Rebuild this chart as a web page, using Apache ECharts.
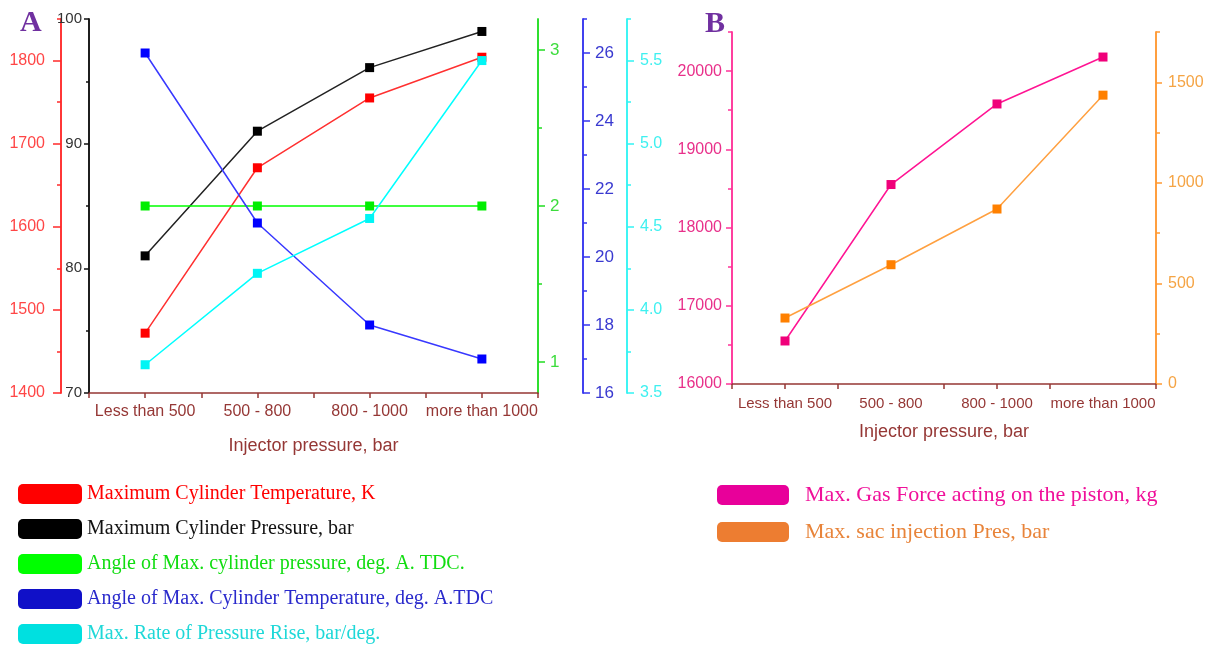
<!DOCTYPE html>
<html>
<head>
<meta charset="utf-8">
<script src="https://cdn.jsdelivr.net/npm/echarts@6/dist/echarts.min.js"></script>
<style>
html,body{margin:0;padding:0;background:#fff;}
#chart{width:1212px;height:648px;}
</style>
</head>
<body>
<div id="chart"></div>
<script>
// ---- data ----
const categories = ['Less than 500', '500 - 800', '800 - 1000', 'more than 1000'];
const maxCylTemp = [1472, 1671, 1755, 1804];      // K (red axis)
const maxCylPres = [81.0, 91.0, 96.1, 99.0];      // bar (black axis)
const angleMaxPres = [2, 2, 2, 2];                // deg (green axis)
const angleMaxTemp = [26.0, 21.0, 18.0, 17.0];    // deg (blue axis)
const maxRatePres = [3.67, 4.22, 4.55, 5.5];      // bar/deg (cyan axis)
const maxGasForce = [16550, 18550, 19580, 20180]; // kg (pink axis)
const maxSacPres = [328, 593, 870, 1436];         // bar (orange axis)

// ---- tick labels ----
const redTicks = [1400, 1500, 1600, 1700, 1800];
const redMinor = [1450, 1550, 1650, 1750, 1850];
const blackTicks = [70, 80, 90, 100];
const blackMinor = [75, 85, 95];
const greenTicks = [1, 2, 3];
const greenMinor = [1.5, 2.5];
const blueTicks = [16, 18, 20, 22, 24, 26];
const blueMinor = [17, 19, 21, 23, 25, 27];
const cyanTicks = [3.5, 4.0, 4.5, 5.0, 5.5];
const cyanMinor = [3.75, 4.25, 4.75, 5.25, 5.75];
const pinkTicks = [16000, 17000, 18000, 19000, 20000];
const pinkMinor = [16500, 17500, 18500, 19500, 20500];
const orangeTicks = [0, 500, 1000, 1500];
const orangeMinor = [250, 750, 1250, 1750];

const names = {
  temp: 'Maximum Cylinder Temperature, K',
  pres: 'Maximum Cylinder Pressure, bar',
  angP: 'Angle of Max. cylinder pressure, deg. A. TDC.',
  angT: 'Angle of Max. Cylinder Temperature, deg. A.TDC',
  rate: 'Max. Rate of Pressure Rise, bar/deg.',
  gas: 'Max. Gas Force acting on the piston, kg',
  sac: 'Max. sac injection Pres, bar'
};

const SANS = 'Liberation Sans, Arial, sans-serif';
const SERIF = 'Liberation Serif, Times New Roman, serif';
const AXRED = '#953735';

function yPair(o) {
  const major = {
    type: 'value', gridIndex: o.grid, position: o.pos, offset: o.offset,
    min: o.min, max: o.max,
    axisLine: { show: true, lineStyle: { color: o.line, width: 1.5 } },
    axisTick: { show: true, customValues: o.ticks, length: o.tickLen, lineStyle: { color: o.line, width: 1.5 } },
    axisLabel: { show: true, customValues: o.ticks, color: o.label, fontSize: o.fs, fontFamily: SANS, margin: o.margin,
      formatter: o.fmt || (v => String(v)) },
    splitLine: { show: false }
  };
  const minor = {
    type: 'value', gridIndex: o.grid, position: o.pos, offset: o.offset,
    min: o.min, max: o.max,
    axisLine: { show: true, lineStyle: { color: o.line, width: 1.5 } },
    axisTick: { show: true, customValues: o.minor, length: o.minorLen, lineStyle: { color: o.line, width: 1.5 } },
    axisLabel: { show: false },
    splitLine: { show: false }
  };
  return [major, minor];
}

const yDefs = [
  { grid: 0, pos: 'left', offset: 0, min: 70, max: 100, ticks: blackTicks, minor: blackMinor, line: '#111', label: '#333', fs: 15, margin: 7, tickLen: 5, minorLen: 3 },
  { grid: 0, pos: 'left', offset: 28, min: 1400, max: 1850, ticks: redTicks, minor: redMinor, line: '#ff2a2a', label: '#ff4646', fs: 16, margin: 16, tickLen: 8, minorLen: 4 },
  { grid: 0, pos: 'right', offset: 0, min: 0.8, max: 3.2, ticks: greenTicks, minor: greenMinor, line: '#22dd22', label: '#3ddc3d', fs: 17, margin: 12, tickLen: 7, minorLen: 4 },
  { grid: 0, pos: 'right', offset: 45, min: 16, max: 27, ticks: blueTicks, minor: blueMinor, line: '#3535ee', label: '#3a3ad0', fs: 17, margin: 12, tickLen: 7, minorLen: 4 },
  { grid: 0, pos: 'right', offset: 89, min: 3.5, max: 5.75, ticks: cyanTicks, minor: cyanMinor, line: '#33f3f3', label: '#3ff0f0', fs: 16, margin: 13, tickLen: 7, minorLen: 4, fmt: v => Number(v).toFixed(1) },
  { grid: 1, pos: 'left', offset: 0, min: 16000, max: 20500, ticks: pinkTicks, minor: pinkMinor, line: '#ff3399', label: '#e8308a', fs: 16, margin: 10, tickLen: 6, minorLen: 4 },
  { grid: 1, pos: 'right', offset: 0, min: 0, max: 1750, ticks: orangeTicks, minor: orangeMinor, line: '#ff9933', label: '#f5a444', fs: 16, margin: 12, tickLen: 6, minorLen: 4 }
];
const yAxes = [];
yDefs.forEach(d => { const p = yPair(d); yAxes.push(p[0]); yAxes.push(p[1]); });
// major axis indices: black 0, red 2, green 4, blue 6, cyan 8, pink 10, orange 12

function xPair(grid, fs, margin, nameGap) {
  return [
    { type: 'category', gridIndex: grid, data: categories, boundaryGap: true, position: 'bottom',
      axisLine: { show: true, onZero: false, lineStyle: { color: AXRED, width: 1.5 } },
      axisTick: { show: true, alignWithLabel: false, length: 5, lineStyle: { color: AXRED, width: 1.5 } },
      axisLabel: { color: AXRED, fontSize: fs, fontFamily: SANS, margin: margin, interval: 0 },
      name: 'Injector pressure, bar', nameLocation: 'middle', nameGap: nameGap,
      nameTextStyle: { color: AXRED, fontSize: 18, fontFamily: SANS },
      splitLine: { show: false } },
    { type: 'category', gridIndex: grid, data: categories, boundaryGap: true, position: 'bottom',
      axisLine: { show: false, onZero: false },
      axisTick: { show: true, alignWithLabel: true, length: 5, lineStyle: { color: AXRED, width: 1.5 } },
      axisLabel: { show: false }, splitLine: { show: false } }
  ];
}
const xAxes = xPair(0, 16, 11, 44).concat(xPair(1, 15, 12, 39));

function lineSeries(name, data, x, y, lineColor, markColor) {
  return {
    name: name, type: 'line', xAxisIndex: x, yAxisIndex: y, data: data,
    symbol: 'rect', symbolSize: 9, showSymbol: true,
    lineStyle: { color: lineColor, width: 1.5 },
    itemStyle: { color: markColor },
    emphasis: { disabled: true }, animation: false
  };
}

const series = [
  lineSeries(names.temp, maxCylTemp, 0, 2, '#ff3030', '#ff0000'),
  lineSeries(names.pres, maxCylPres, 0, 0, '#222222', '#000000'),
  lineSeries(names.angP, angleMaxPres, 0, 4, '#00ff00', '#00ee00'),
  lineSeries(names.angT, angleMaxTemp, 0, 6, '#3838ff', '#0000ff'),
  lineSeries(names.rate, maxRatePres, 0, 8, '#00ffff', '#00f5f5'),
  lineSeries(names.gas, maxGasForce, 2, 10, '#ff1493', '#f0007a'),
  lineSeries(names.sac, maxSacPres, 2, 12, '#ffa040', '#ff8000')
];

function legendItem(name, rect, text) {
  return { name: name, itemStyle: { color: rect }, textStyle: { color: text } };
}

const option = {
  backgroundColor: '#ffffff',
  animation: false,
  title: [
    { text: 'A', left: 20, top: 8, padding: 0, textStyle: { fontFamily: SERIF, fontWeight: 'bold', fontSize: 30, color: '#7030a0' } },
    { text: 'B', left: 705, top: 9, padding: 0, textStyle: { fontFamily: SERIF, fontWeight: 'bold', fontSize: 30, color: '#7030a0' } }
  ],
  grid: [
    { left: 89, top: 19, width: 449, height: 374 },
    { left: 732, top: 32, width: 424, height: 352 }
  ],
  xAxis: xAxes,
  yAxis: yAxes,
  legend: [
    { orient: 'vertical', left: 18, top: 484, padding: 0, icon: 'roundRect', itemWidth: 64, itemHeight: 20, itemGap: 15,
      selectedMode: false,
      textStyle: { fontFamily: SERIF, fontSize: 20, lineHeight: 20 },
      data: [
        legendItem(names.temp, '#ff0000', '#ff0000'),
        legendItem(names.pres, '#000000', '#111111'),
        legendItem(names.angP, '#00ff00', '#11dd11'),
        legendItem(names.angT, '#1010c8', '#2a2acc'),
        legendItem(names.rate, '#00e0e0', '#1fd8d8')
      ] },
    { orient: 'vertical', left: 717, top: 484, padding: 0, icon: 'roundRect', itemWidth: 72, itemHeight: 20, itemGap: 15,
      selectedMode: false,
      textStyle: { fontFamily: SERIF, fontSize: 22, lineHeight: 20, padding: [0, 0, 0, 11] },
      data: [
        legendItem(names.gas, '#e8009a', '#f0109a'),
        legendItem(names.sac, '#ed7d31', '#e8843a')
      ] }
  ],
  series: series
};

const chart = echarts.init(document.getElementById('chart'), null, { renderer: 'canvas' });
chart.setOption(option);
</script>
</body>
</html>
